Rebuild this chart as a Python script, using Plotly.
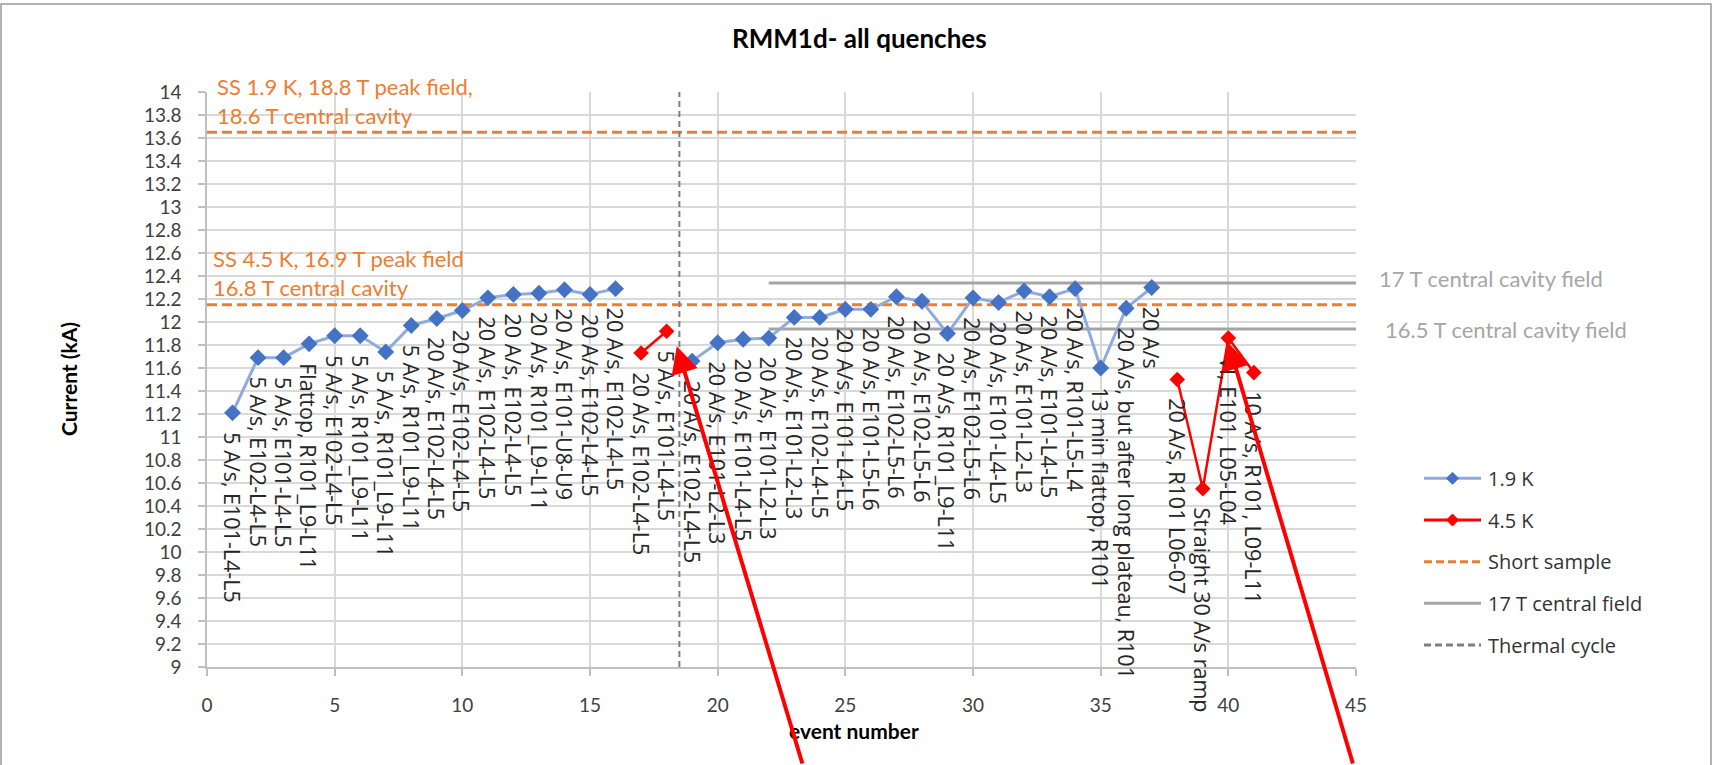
import plotly.graph_objects as go

# ---------------- data ----------------
blue_x = list(range(1, 17)) + list(range(19, 38))
blue_y = [11.21, 11.69, 11.69, 11.81, 11.88, 11.88, 11.74, 11.97, 12.03, 12.10,
          12.21, 12.24, 12.25, 12.28, 12.24, 12.29,
          11.66, 11.82, 11.85, 11.86, 12.04, 12.04, 12.11, 12.11, 12.22, 12.18,
          11.90, 12.21, 12.17, 12.27, 12.22, 12.29, 11.60, 12.12, 12.30]
blue_labels = [
    "5 A/s, E101-L4-L5", "5 A/s, E102-L4-L5", "5 A/s, E101-L4-L5",
    "Flattop, R101_L9-L11", "5 A/s, E102-L4-L5", "5 A/s, R101_L9-L11",
    "5 A/s, R101_L9-L11", "5 A/s, R101_L9-L11", "20 A/s, E102-L4-L5",
    "20 A/s, E102-L4-L5", "20 A/s, E102-L4-L5", "20 A/s, E102-L4-L5",
    "20 A/s, R101_L9-L11", "20 A/s, E101-U8-U9", "20 A/s, E102-L4-L5",
    "20 A/s, E102-L4-L5",
    "20 A/s, E102-L4-L5", "20 A/s, E101-L2-L3", "20 A/s, E101-L4-L5",
    "20 A/s, E101-L2-L3", "20 A/s, E101-L2-L3", "20 A/s, E102-L4-L5",
    "20 A/s, E101-L4-L5", "20 A/s, E101-L5-L6", "20 A/s, E102-L5-L6",
    "20 A/s, E102-L5-L6", "20 A/s, R101_L9-L11", "20 A/s, E102-L5-L6",
    "20 A/s, E101-L4-L5", "20 A/s, E101-L2-L3", "20 A/s, E101-L4-L5",
    "20 A/s, R101-L5-L4", "13 min flattop, R101",
    "20 A/s, but after long plateau, R101", "20 A/s"]

red_x = [17, 18, 38, 39, 40, 41]
red_y = [11.73, 11.92, 11.50, 10.55, 11.86, 11.56]
red_labels = ["20 A/s, E102-L4-L5", "5 A/s, E101-L4-L5", "20 A/s, R101 L06-07",
              "Straight 30 A/s ramp", "\u221aI, E101, L05-L04", "10 A/s, R101, L09-L11"]

short_sample_levels = [13.65, 12.15]
short_sample_texts = [["SS 1.9 K, 18.8 T peak field,", "18.6 T central cavity"],
                      ["SS 4.5 K, 16.9 T peak field", "16.8 T central cavity"]]
field_levels = [12.34, 11.94]
field_x = [22, 45]
field_texts = ["17 T central cavity field", "16.5 T central cavity field"]
thermal_cycle_x = 18.5

x_range = [0, 45]
x_ticks = ["0", "5", "10", "15", "20", "25", "30", "35", "40", "45"]
y_range = [9, 14]
y_ticks = ["9", "9.2", "9.4", "9.6", "9.8", "10", "10.2", "10.4", "10.6", "10.8",
           "11", "11.2", "11.4", "11.6", "11.8", "12", "12.2", "12.4", "12.6",
           "12.8", "13", "13.2", "13.4", "13.6", "13.8", "14"]

legend_names = ["1.9 K", "4.5 K", "Short sample", "17 T central field", "Thermal cycle"]

# ---------------- style ----------------
W, H = 1716, 765
PL, PR, PT, PB = 207, 1356, 92, 667
BLUE_LINE, BLUE_MK = "#8FAADC", "#4472C4"
RED = "#FF0000"
ORANGE = "#ED7D31"
GREY = "#A5A5A5"
THERMAL = "#7F7F7F"
LABEL_FONT = dict(family="Open Sans", size=21.5, color="#262626")
CAL = "Lato"
TICK_FONT = dict(family="Lato", size=19, color="#404040")


def px_x(px):
    return (px - PL) / (PR - PL)


def px_y(py):
    return (PB - py) / (PB - PT)


def with_gaps(xs, ys):
    ox, oy = [], []
    for i, (a, b) in enumerate(zip(xs, ys)):
        if i and a - xs[i - 1] > 1:
            ox.append(None)
            oy.append(None)
        ox.append(a)
        oy.append(b)
    return ox, oy


fig = go.Figure()

# short sample lines
for lv in short_sample_levels:
    fig.add_trace(go.Scatter(x=x_range, y=[lv, lv], mode="lines",
                             line=dict(color=ORANGE, width=3, dash="10px,5px"),
                             showlegend=False, hoverinfo="skip"))
# 17 T central field lines
for lv in field_levels:
    fig.add_trace(go.Scatter(x=field_x, y=[lv, lv], mode="lines",
                             line=dict(color=GREY, width=3),
                             showlegend=False, hoverinfo="skip"))
# thermal cycle
fig.add_trace(go.Scatter(x=[thermal_cycle_x, thermal_cycle_x], y=y_range, mode="lines",
                         line=dict(color=THERMAL, width=2, dash="6px,4px"),
                         showlegend=False, hoverinfo="skip"))

bx, by = with_gaps(blue_x, blue_y)
fig.add_trace(go.Scatter(x=bx, y=by, mode="lines+markers", name="1.9 K",
                         line=dict(color=BLUE_LINE, width=3),
                         marker=dict(symbol="diamond", size=13, color=BLUE_MK),
                         showlegend=False))
rx, ry = with_gaps(red_x, red_y)
fig.add_trace(go.Scatter(x=rx, y=ry, mode="lines+markers", name="4.5 K",
                         line=dict(color=RED, width=2.5),
                         marker=dict(symbol="diamond", size=12, color=RED),
                         showlegend=False))

ann = []
# data labels (rotated)
for xs, ys, labs in ((blue_x, blue_y, blue_labels), (red_x, red_y, red_labels)):
    for a, b, t in zip(xs, ys, labs):
        ann.append(dict(x=a, y=b, xref="x", yref="y", text=t, showarrow=False,
                        textangle=90, xanchor="center", yanchor="top", yshift=-17,
                        font=LABEL_FONT))

# short sample annotations
for lv, (l1, l2), xs in zip(short_sample_levels, short_sample_texts, (8, 4)):
    ann.append(dict(x=0, y=lv, xref="x", yref="y", text=l1, showarrow=False,
                    xanchor="left", yanchor="middle", xshift=xs, yshift=46,
                    font=dict(family=CAL, size=22, color=ORANGE)))
    ann.append(dict(x=0, y=lv, xref="x", yref="y", text=l2, showarrow=False,
                    xanchor="left", yanchor="middle", xshift=xs, yshift=17,
                    font=dict(family=CAL, size=22, color=ORANGE)))

# field annotations
for lv, t, xs, ys in zip(field_levels, field_texts, (21, 27), (4, -1)):
    ann.append(dict(x=45, y=lv, xref="x", yref="y", text=t, showarrow=False,
                    xanchor="left", yanchor="middle", xshift=xs, yshift=ys,
                    font=dict(family=CAL, size=22, color="#A6A6A6")))

# titles
ann.append(dict(x=px_x(859), y=px_y(38), xref="paper", yref="paper",
                text="<b>RMM1d- all quenches</b>", showarrow=False,
                xanchor="center", yanchor="middle",
                font=dict(family=CAL, size=26, color="#000000")))
ann.append(dict(x=px_x(68), y=px_y(379), xref="paper", yref="paper",
                text="<b>Current (kA)</b>", showarrow=False, textangle=-90,
                xanchor="center", yanchor="middle",
                font=dict(family=CAL, size=21, color="#000000")))
ann.append(dict(x=px_x(854), y=px_y(730), xref="paper", yref="paper",
                text="<b>event number</b>", showarrow=False,
                xanchor="center", yanchor="middle",
                font=dict(family=CAL, size=21, color="#000000")))

# red arrows (overlay marks from the reference image)
ann.append(dict(x=18.4, y=11.79, xref="x", yref="y", text="", showarrow=True,
                ax=126, ay=443, arrowhead=2, arrowsize=1.35, arrowwidth=4,
                arrowcolor=RED, standoff=0))
ann.append(dict(x=40, y=11.82, xref="x", yref="y", text="", showarrow=True,
                ax=125, ay=447, arrowhead=2, arrowsize=1.35, arrowwidth=4,
                arrowcolor=RED, standoff=0))

# custom legend
shapes = []
rows = [478.3, 520, 561.7, 603.3, 645]
styles = [(BLUE_LINE, 3, None, BLUE_MK), (RED, 3, None, RED),
          (ORANGE, 3, "8px,4px", None), (GREY, 3, None, None),
          (THERMAL, 3, "7px,4px", None)]
for name, ry_, (col, wd, dash, mk) in zip(legend_names, rows, styles):
    ln = dict(color=col, width=wd)
    if dash:
        ln["dash"] = dash
    shapes.append(dict(type="line", xref="paper", yref="paper",
                       x0=px_x(1424), x1=px_x(1481), y0=px_y(ry_), y1=px_y(ry_), line=ln))
    if mk:
        cx, cy = px_x(1452.5), px_y(ry_)
        dx, dy = 6 / (PR - PL), 6 / (PB - PT)
        path = f"M{cx - dx},{cy} L{cx},{cy + dy} L{cx + dx},{cy} L{cx},{cy - dy} Z"
        shapes.append(dict(type="path", xref="paper", yref="paper", path=path,
                           fillcolor=mk, line=dict(color=mk, width=1)))
    ann.append(dict(x=px_x(1486), y=px_y(ry_), xref="paper", yref="paper",
                    text=name, showarrow=False, xanchor="left", yanchor="middle",
                    font=dict(family="Open Sans", size=20, color="#333333")))

# outer chart frame
shapes.append(dict(type="rect", xref="paper", yref="paper",
                   x0=px_x(1), x1=px_x(1711), y0=px_y(800), y1=px_y(4),
                   line=dict(color="#9A9A9A", width=1.5), layer="below"))

fig.update_layout(
    width=W, height=H,
    margin=dict(l=PL, r=W - PR, t=PT, b=H - PB),
    paper_bgcolor="white", plot_bgcolor="white",
    showlegend=False,
    annotations=ann, shapes=shapes,
    xaxis=dict(range=x_range, tickvals=[float(t) for t in x_ticks], ticktext=x_ticks,
               showgrid=True, gridcolor="#D9D9D9", gridwidth=1.5,
               showline=True, linecolor="#BFBFBF", linewidth=1.5,
               ticks="outside", ticklen=7, tickcolor="#BFBFBF", tickwidth=1.5,
               ticklabelstandoff=13, zeroline=False, tickfont=TICK_FONT),
    yaxis=dict(range=y_range, tickvals=[float(t) for t in y_ticks], ticktext=y_ticks,
               showgrid=True, gridcolor="#D9D9D9", gridwidth=1.5,
               showline=True, linecolor="#BFBFBF", linewidth=1.5,
               ticks="outside", ticklen=7, tickcolor="#BFBFBF", tickwidth=1.5,
               ticklabelstandoff=13, zeroline=False, tickfont=TICK_FONT),
)

fig.write_html("out.html")
